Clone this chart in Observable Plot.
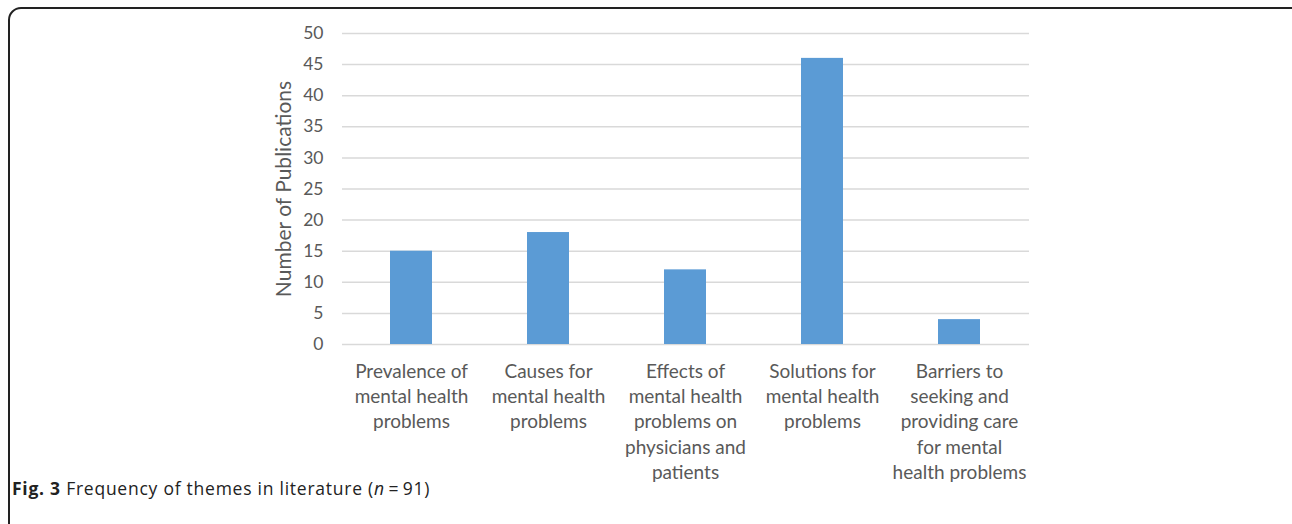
<!DOCTYPE html>
<html>
<head>
<meta charset="utf-8">
<script src="https://cdn.jsdelivr.net/npm/d3@7"></script>
<script src="https://cdn.jsdelivr.net/npm/@observablehq/plot@0.6"></script>
<style>
  html, body { margin: 0; padding: 0; background: #fff; width: 1292px; height: 524px; overflow: hidden; }
  #frame { position: absolute; left: 8px; top: 7px; width: 1300px; height: 560px; border: 2px solid #222; border-radius: 13px; box-sizing: border-box; }
  #chart { position: absolute; left: 0; top: 0; }
  #caption { position: absolute; left: 12px; top: 476px; font-family: "Open Sans", sans-serif; font-size: 17.5px; letter-spacing: 0.75px; color: #222; white-space: nowrap; }
  #caption b { font-weight: 700; }
</style>
</head>
<body>
<div id="frame"></div>
<div id="chart"></div>
<div id="caption"><b>Fig. 3</b> Frequency of themes in literature (<i>n</i>&#8201;=&#8201;91)</div>
<script>
const categories = [
  "Prevalence of\nmental health\nproblems",
  "Causes for\nmental health\nproblems",
  "Effects of\nmental health\nproblems on\nphysicians and\npatients",
  "Solutions for\nmental health\nproblems",
  "Barriers to\nseeking and\nproviding care\nfor mental\nhealth problems"
];
const values = [15, 18, 12, 46, 4];
const yTicks = [0, 5, 10, 15, 20, 25, 30, 35, 40, 45, 50];
const yLabel = "Number of Publications";

const data = categories.map((c, i) => ({category: c, value: values[i]}));

const chart = Plot.plot({
  width: 1292,
  height: 490,
  marginLeft: 342,
  marginRight: 263,
  marginTop: 33,
  marginBottom: 146,
  style: {fontFamily: "Lato, sans-serif", fontSize: "17px", color: "#595959", background: "transparent"},
  x: {domain: categories, paddingInner: 0.69, paddingOuter: 0.345, label: null},
  y: {domain: [0, 50], ticks: yTicks, label: null},
  marks: [
    Plot.ruleY(yTicks, {stroke: "#d9d9d9", strokeWidth: 1.5}),
    Plot.barY(data, {x: "category", y: "value", fill: "#5b9bd5"}),
    Plot.axisY({ticks: yTicks, tickSize: 0, tickPadding: 19, label: null, fontSize: 17.5, fill: "#595959"}),
    Plot.axisX({tickSize: 0, tickPadding: 16, label: null, fontSize: 19, lineHeight: 1.32, fill: "#595959"}),
    Plot.text([yLabel], {frameAnchor: "left", rotate: -90, dx: -58, textAnchor: "middle", fontSize: 21, fill: "#595959"})
  ]
});
document.getElementById("chart").appendChild(chart);
</script>
</body>
</html>
